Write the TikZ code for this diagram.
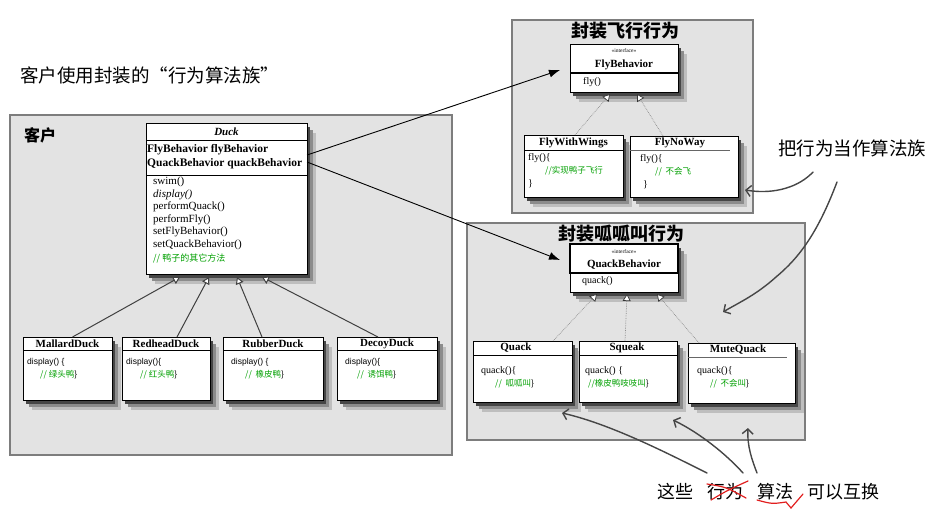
\documentclass[tikz,border=0pt]{standalone}
\usepackage{fontspec}
\setmainfont{Liberation Serif}
\newfontfamily\cjk{Noto Sans CJK SC}
\newfontfamily\sansf{Liberation Sans}
\usetikzlibrary{arrows.meta,calc}
\definecolor{panelfill}{RGB}{227,227,227}
\definecolor{panelline}{RGB}{125,125,125}
\definecolor{cmt}{RGB}{0,160,0}
\definecolor{handc}{RGB}{70,70,70}
\definecolor{redmark}{RGB}{225,30,30}
\definecolor{shO}{RGB}{190,190,190}
\definecolor{shA}{RGB}{140,140,140}
\definecolor{shB}{RGB}{70,70,70}
\newcommand{\fwq}[1]{{\addfontfeature{RawFeature=+fwid}#1}}
\tikzset{
  panel/.style={draw=panelline, fill=panelfill, line width=1.6pt, inner sep=0pt, outer sep=0pt, anchor=north west},
  shadeO/.style={fill=shO, draw=none, inner sep=0pt, outer sep=0pt, anchor=north west},
  shadeA/.style={fill=shA, draw=none, inner sep=0pt, outer sep=0pt, anchor=north west},
  shadeB/.style={fill=shB, draw=none, inner sep=0pt, outer sep=0pt, anchor=north west},
  clsbox/.style={draw=black, fill=white, line width=0.8pt, inner sep=0pt, outer sep=0pt, anchor=north west},
  cname/.style={font=\fontsize{11}{12}\selectfont\bfseries, inner sep=0pt},
  mtxt/.style={font=\fontsize{11}{12}\selectfont, inner sep=0pt, anchor=west},
  atxt/.style={font=\fontsize{11.5}{12}\selectfont\bfseries, inner sep=0pt, anchor=west},
  ctxt/.style={font=\sansf\fontsize{8.5}{10}\selectfont, inner sep=0pt, anchor=west},
  gcmt/.style={font=\cjk\fontsize{8.5}{10}\selectfont, text=cmt, inner sep=0pt, anchor=west},
  itf/.style={font=\fontsize{5.5}{6}\selectfont, inner sep=0pt},
  ptitle/.style={font=\cjk\bfseries\fontsize{18}{20}\selectfont, inner sep=0pt},
  bigtxt/.style={font=\cjk\fontsize{18}{20}\selectfont, inner sep=0pt, anchor=west},
  inh/.style={draw=black!75, line width=1pt, -{Triangle[width=8pt,length=7pt,fill=white]}},
  impl/.style={draw=black!45, densely dotted, line width=0.7pt, -{Triangle[width=8pt,length=7pt,fill=white,color=black!80]}},
  assoc/.style={draw=black, line width=0.9pt, -{Latex[length=11pt,width=8pt]}},
  handarr/.style={draw=handc, line width=1.4pt, line cap=round, -{Straight Barb[length=5pt,width=11pt]}},
  redline/.style={draw=redmark, line width=1.2pt, line cap=round},
}
\begin{document}
\begin{tikzpicture}[x=1pt,y=-1pt]
\useasboundingbox (0,0) rectangle (933,512);

% ---- top caption
\node[bigtxt, font=\cjk\fontsize{18.5}{20}\selectfont] (ttl) at (20,75) {客户使用封装的\fwq{“}行为算法族\fwq{”}};

% ---- panels
\node[panel, minimum width=442pt, minimum height=340pt] (client) at (10,115) {};
\node[panel, minimum width=241pt, minimum height=193pt] (flyp) at (512,20) {};
\node[panel, minimum width=338pt, minimum height=217pt] (quackp) at (467,223) {};
\node[ptitle, font=\cjk\bfseries\fontsize{16}{18}\selectfont, anchor=west] (clientT) at (24,135) {客户};
\node[ptitle] (flyT) at (625,31) {封装飞行行为};
\node[ptitle] (quackT) at (621,234) {封装呱呱叫行为};

% ---- shadows of the class boxes (outermost, outer, inner)
\node[shadeO, minimum width=161pt, minimum height=151pt] (duckSO) at (155,133) {};
\node[shadeO, minimum width=89pt, minimum height=63pt] (mallardSO) at (32,347) {};
\node[shadeO, minimum width=88pt, minimum height=63pt] (redheadSO) at (131,347) {};
\node[shadeO, minimum width=100pt, minimum height=63pt] (rubberSO) at (232,347) {};
\node[shadeO, minimum width=100pt, minimum height=63pt] (decoySO) at (346,347) {};
\node[shadeO, minimum width=108pt, minimum height=48pt] (flybSO) at (579,54) {};
\node[shadeO, minimum width=99pt, minimum height=62pt] (fwwSO) at (533,145) {};
\node[shadeO, minimum width=108pt, minimum height=61pt] (fnwSO) at (639,146) {};
\node[shadeO, minimum width=108pt, minimum height=48pt] (quackbSO) at (579,254) {};
\node[shadeO, minimum width=99pt, minimum height=61pt] (qkSO) at (482,351) {};
\node[shadeO, minimum width=98pt, minimum height=61pt] (sqSO) at (588,351) {};
\node[shadeO, minimum width=107pt, minimum height=60pt] (mqSO) at (697,353) {};

\node[shadeA, minimum width=161pt, minimum height=151pt] (duckSA) at (152,130) {};
\node[shadeA, minimum width=89pt, minimum height=63pt] (mallardSA) at (29,344) {};
\node[shadeA, minimum width=88pt, minimum height=63pt] (redheadSA) at (128,344) {};
\node[shadeA, minimum width=100pt, minimum height=63pt] (rubberSA) at (229,344) {};
\node[shadeA, minimum width=100pt, minimum height=63pt] (decoySA) at (343,344) {};
\node[shadeA, minimum width=108pt, minimum height=48pt] (flybSA) at (576,51) {};
\node[shadeA, minimum width=99pt, minimum height=62pt] (fwwSA) at (530,142) {};
\node[shadeA, minimum width=108pt, minimum height=61pt] (fnwSA) at (636,143) {};
\node[shadeA, minimum width=108pt, minimum height=48pt] (quackbSA) at (576,251) {};
\node[shadeA, minimum width=99pt, minimum height=61pt] (qkSA) at (479,348) {};
\node[shadeA, minimum width=98pt, minimum height=61pt] (sqSA) at (585,348) {};
\node[shadeA, minimum width=107pt, minimum height=60pt] (mqSA) at (694,350) {};

\node[shadeB, minimum width=161pt, minimum height=151pt] (duckSB) at (149,127) {};
\node[shadeB, minimum width=89pt, minimum height=63pt] (mallardSB) at (26,341) {};
\node[shadeB, minimum width=88pt, minimum height=63pt] (redheadSB) at (125,341) {};
\node[shadeB, minimum width=100pt, minimum height=63pt] (rubberSB) at (226,341) {};
\node[shadeB, minimum width=100pt, minimum height=63pt] (decoySB) at (340,341) {};
\node[shadeB, minimum width=108pt, minimum height=48pt] (flybSB) at (573,48) {};
\node[shadeB, minimum width=99pt, minimum height=62pt] (fwwSB) at (527,139) {};
\node[shadeB, minimum width=108pt, minimum height=61pt] (fnwSB) at (633,140) {};
\node[shadeB, minimum width=108pt, minimum height=48pt] (quackbSB) at (573,248) {};
\node[shadeB, minimum width=99pt, minimum height=61pt] (qkSB) at (476,345) {};
\node[shadeB, minimum width=98pt, minimum height=61pt] (sqSB) at (582,345) {};
\node[shadeB, minimum width=107pt, minimum height=60pt] (mqSB) at (691,347) {};

% ---- Duck
\node[clsbox, minimum width=161pt, minimum height=151pt] (duck) at (146,123) {};
\draw[line width=0.8pt] (146,140) -- (307,140) (146,175) -- (307,175);
\node[cname, font=\fontsize{11}{12}\selectfont\bfseries\itshape] (duckN) at (226.5,131.5) {Duck};
\node[atxt] (da1) at (147,150) {FlyBehavior flyBehavior};
\node[atxt] (da2) at (147,164) {QuackBehavior quackBehavior};
\node[mtxt] (dm1) at (153,182) {swim()};
\node[mtxt] (dm2) at (153,194.5) {\itshape display()};
\node[mtxt] (dm3) at (153,207) {performQuack()};
\node[mtxt] (dm4) at (153,219.5) {performFly()};
\node[mtxt] (dm5) at (153,232) {setFlyBehavior()};
\node[mtxt] (dm6) at (153,244.5) {setQuackBehavior()};
\node[gcmt, font=\cjk\fontsize{9}{10}\selectfont] (dm7) at (153,258) {// 鸭子的其它方法};

% ---- Duck subclasses
\node[clsbox, minimum width=89pt, minimum height=63pt] (mallard) at (23,337) {};
\node[clsbox, minimum width=88pt, minimum height=63pt] (redhead) at (122,337) {};
\node[clsbox, minimum width=100pt, minimum height=63pt] (rubber) at (223,337) {};
\node[clsbox, minimum width=100pt, minimum height=63pt] (decoy) at (337,337) {};
\draw[line width=0.8pt] (23,350) -- (112,350) (122,350) -- (210,350) (223,350) -- (323,350) (337,350) -- (437,350);
\node[cname] (mallardN) at (67.5,343.5) {MallardDuck};
\node[cname] (redheadN) at (166,343.5) {RedheadDuck};
\node[cname] (rubberN) at (273,343.5) {RubberDuck};
\node[cname] (decoyN) at (387,343.5) {DecoyDuck};
\node[ctxt] (m1) at (27,362) {display() \{};
\node[gcmt] (m2) at (40,375) {// 绿头鸭\textcolor{black}{\}}};
\node[ctxt] (r1) at (126,362) {display()\{};
\node[gcmt] (r2) at (140,375) {// 红头鸭\textcolor{black}{\}}};
\node[ctxt] (u1) at (231,362) {display() \{};
\node[gcmt] (u2) at (245,375) {//\ \ 橡皮鸭\textcolor{black}{\}}};
\node[ctxt] (c1) at (345,362) {display()\{};
\node[gcmt] (c2) at (357,375) {//\ \ 诱饵鸭\textcolor{black}{\}}};

% ---- FlyBehavior family
\node[clsbox, minimum width=108pt, minimum height=48pt] (flyb) at (570,44) {};
\draw[line width=1.1pt] (570,73) -- (678,73);
\node[itf] (flybI) at (624,51) {\textless\textless interface\textgreater\textgreater};
\node[cname] (flybN) at (624,64.5) {FlyBehavior};
\node[mtxt, font=\fontsize{10}{11}\selectfont] (flybM) at (583,82) {fly()};

\node[clsbox, minimum width=99pt, minimum height=62pt] (fww) at (524,135) {};
\draw[line width=0.8pt] (524,150) -- (623,150);
\node[cname] (fwwN) at (573.5,142.5) {FlyWithWings};
\node[mtxt, font=\fontsize{10}{11}\selectfont] (fw1) at (528,158) {fly()\{};
\node[gcmt] (fw2) at (545,171) {//实现鸭子飞行};
\node[mtxt, font=\fontsize{10}{11}\selectfont] (fw3) at (528,184) {\}};

\node[clsbox, minimum width=108pt, minimum height=61pt] (fnw) at (630,136) {};
\draw[line width=0.9pt, black!60] (630,150) -- (730,150);
\node[cname] (fnwN) at (680,143) {FlyNoWay};
\node[mtxt, font=\fontsize{10}{11}\selectfont] (fn1) at (640,159) {fly()\{};
\node[gcmt] (fn2) at (655,172) {//\ \ 不会飞};
\node[mtxt, font=\fontsize{10}{11}\selectfont] (fn3) at (643,185) {\}};

% ---- QuackBehavior family
\node[clsbox, minimum width=108pt, minimum height=48pt] (quackb) at (570,244) {};
\draw[line width=1.3pt] (570,244) rectangle (678,273);
\node[itf] (quackbI) at (624,252) {\textless\textless interface\textgreater\textgreater};
\node[cname] (quackbN) at (624,265) {QuackBehavior};
\node[mtxt, font=\fontsize{10}{11}\selectfont] (quackbM) at (582,281) {quack()};

\node[clsbox, minimum width=99pt, minimum height=61pt] (qk) at (473,341) {};
\draw[line width=0.8pt] (473,355) -- (572,355);
\node[cname] (qkN) at (516,347.5) {Quack};
\node[mtxt, font=\fontsize{10}{11}\selectfont] (qk1) at (481,371) {quack()\{};
\node[gcmt] (qk2) at (495,384) {//\ \ 呱呱叫\textcolor{black}{\}}};

\node[clsbox, minimum width=98pt, minimum height=61pt] (sq) at (579,341) {};
\draw[line width=0.8pt] (579,355) -- (677,355);
\node[cname] (sqN) at (627,347.5) {Squeak};
\node[mtxt, font=\fontsize{10}{11}\selectfont] (sq1) at (585,371) {quack() \{};
\node[gcmt] (sq2) at (588,384) {//橡皮鸭吱吱叫\textcolor{black}{\}}};

\node[clsbox, minimum width=107pt, minimum height=60pt] (mq) at (688,343) {};
\draw[line width=0.9pt, black!60] (688,357) -- (787,357);
\node[cname] (mqN) at (738,349.5) {MuteQuack};
\node[mtxt, font=\fontsize{10}{11}\selectfont] (mq1) at (697,371) {quack()\{};
\node[gcmt] (mq2) at (710,384) {//\ \ 不会叫\textcolor{black}{\}}};

% ---- inheritance / implementation
\draw[inh] ([xshift=5pt]mallard.north) -- ([xshift=34pt,yshift=-3pt]duck.south west);
\draw[inh] ([xshift=11pt]redhead.north) -- ([xshift=63pt,yshift=-3pt]duck.south west);
\draw[inh] ([xshift=-11pt]rubber.north) -- ([xshift=91pt,yshift=-3pt]duck.south west);
\draw[inh] ([xshift=-9pt]decoy.north) -- ([xshift=116pt,yshift=-3pt]duck.south west);

\draw[impl] ([xshift=1.5pt]fww.north) -- ([xshift=40pt,yshift=-2pt]flyb.south west);
\draw[impl] ([xshift=-21pt]fnw.north) -- ([xshift=67pt,yshift=-2pt]flyb.south west);
\draw[impl] ([xshift=30.5pt]qk.north) -- ([xshift=27pt,yshift=-2pt]quackb.south west);
\draw[impl] ([xshift=-3pt]sq.north) -- ([xshift=57pt,yshift=-2pt]quackb.south west);
\draw[impl] ([xshift=-42.5pt]mq.north) -- ([xshift=87pt,yshift=-2pt]quackb.south west);

% ---- associations
\draw[assoc] ([yshift=-32pt]duck.north east) -- ([xshift=-10pt,yshift=-26pt]flyb.north west);
\draw[assoc] ([yshift=-39pt]duck.north east) -- ([xshift=-10pt,yshift=-16pt]quackb.north west);

% ---- right note
\node[bigtxt, font=\cjk\fontsize{18.5}{20}\selectfont] (rtext) at (778,148) {把行为当作算法族};
\coordinate (h1s) at (813,172);
\coordinate (h1e) at (745,190);
\coordinate (h2s) at (837,182);
\coordinate (h2m) at (776,277);
\coordinate (h2e) at (723,312);
\draw[handarr] (h1s) .. controls (800,186) and (776,195) .. (h1e);
\draw[handarr] (h2s) .. controls (818,232) and (800,257) .. (h2m) .. controls (756,295) and (740,302) .. (h2e);

% ---- bottom note
\node[bigtxt] (b1) at (657,492) {这些};
\node[bigtxt] (b2) at (707,492) {行为};
\node[bigtxt] (b3) at (757,492) {算法};
\node[bigtxt] (b4) at (807,492) {可以互换};
\coordinate (a1s) at (707,473);
\coordinate (a1e) at (562,413);
\coordinate (a2s) at (743,473);
\coordinate (a2e) at (673,420);
\coordinate (a3s) at (757,473);
\coordinate (a3e) at (748,428);
\draw[handarr] (a1s) .. controls (665,452) and (610,424) .. (a1e);
\draw[handarr] (a2s) .. controls (727,455) and (700,433) .. (a2e);
\draw[handarr] (a3s) .. controls (752,460) and (747,446) .. (a3e);

% red marks
\draw[redline] (707,484) .. controls (726,487) .. (746,498);
\draw[redline] (711,500) .. controls (728,490) .. (748,481);
\draw[redline] (757,500) .. controls (772,504) .. (786,502) -- (791,508) -- (803,494);
\end{tikzpicture}
\end{document}
